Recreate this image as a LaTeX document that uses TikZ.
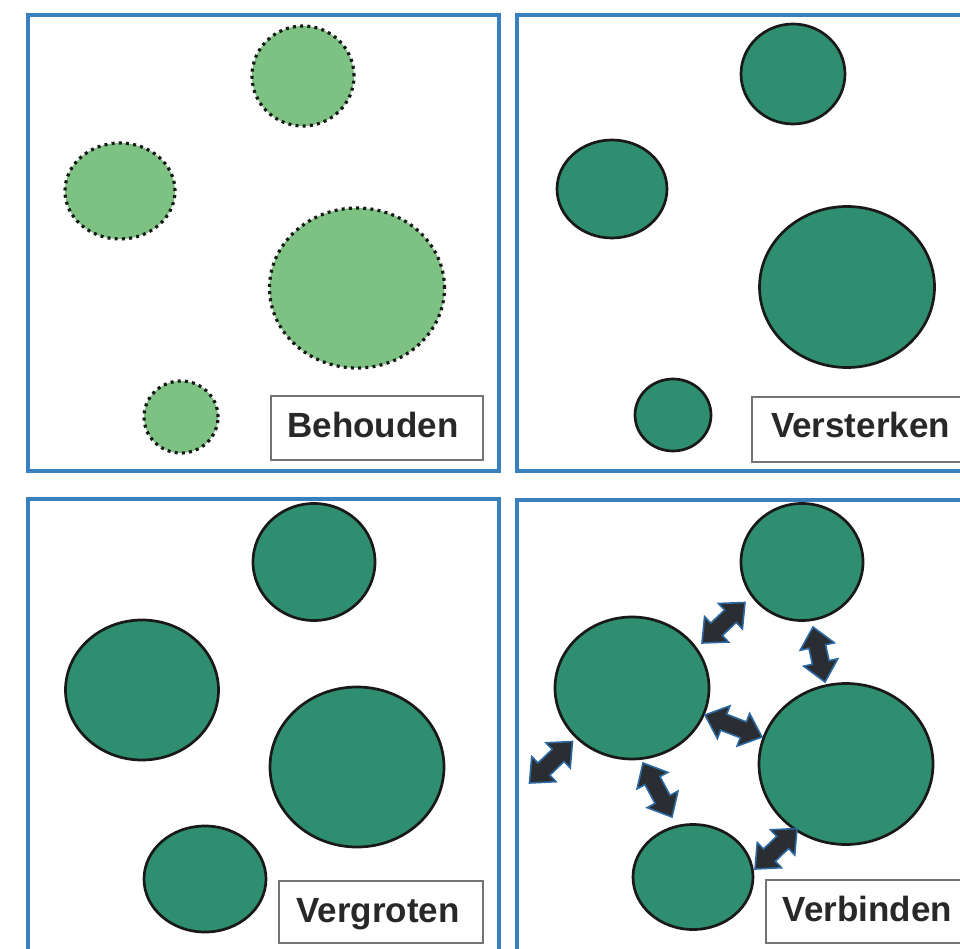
\documentclass[tikz,border=0pt]{standalone}
\usepackage{fontspec}
\setmainfont{Liberation Sans}
\usetikzlibrary{shapes.geometric,calc}
\definecolor{frameblue}{RGB}{58,128,190}
\definecolor{lightgreen}{RGB}{125,194,131}
\definecolor{darkgreen}{RGB}{47,142,112}
\definecolor{arrowdark}{RGB}{42,45,50}
\definecolor{halo}{RGB}{45,105,160}
\definecolor{textdark}{RGB}{40,40,40}
\newcommand\dblarr[2]{%
  \path let \p1=($(#2)-(#1)$), \n1={atan2(\y1,\x1)}, \n2={veclen(\x1,\y1)} in
    \pgfextra{\xdef\arrang{\n1}\xdef\arrlen{\n2}};
  \begin{scope}[shift={(#1)},rotate=\arrang]
    \draw[dblarrow] (0,0) -- (20,17.5) -- (20,8.5) -- ({\arrlen-20},8.5) -- ({\arrlen-20},17.5)
      -- (\arrlen,0) -- ({\arrlen-20},-17.5) -- ({\arrlen-20},-8.5) -- (20,-8.5) -- (20,-17.5) -- cycle;
  \end{scope}}
\begin{document}
\begin{tikzpicture}[x=1pt,y=-1pt,
  panel/.style={draw=frameblue,line width=4pt},
  blob/.style={ellipse,inner sep=0pt,draw=black!90,line width=2.7pt,fill=darkgreen},
  dotblob/.style={ellipse,inner sep=0pt,fill=lightgreen,draw=black!90,line width=3.2pt,
    dash pattern=on 3pt off 4.2pt},
  labelbox/.style={draw=black!55,line width=1.2pt,fill=white},
  labeltext/.style={font=\fontsize{35}{40}\selectfont\bfseries,text=textdark,inner sep=0pt,anchor=base},
  dblarrow/.style={fill=arrowdark,draw=halo,line width=1.6pt,line join=miter},
]
\useasboundingbox (0,0) rectangle (960,949);
\clip (0,0) rectangle (960,949);
\fill[white] (0,0) rectangle (960,949);

% panel frames
\draw[panel] (28,15) rectangle (498.5,471);
\draw[panel] (516.5,15) rectangle (990,471);
\draw[panel] (28,499) rectangle (498.5,990);
\draw[panel] (516.5,500) rectangle (990,990);

% panel 1: Behouden
\node[dotblob,minimum width=102pt,minimum height=100pt] (b1) at (303,76) {};
\node[dotblob,minimum width=110pt,minimum height=96pt] (b2) at (120,191) {};
\node[dotblob,minimum width=175pt,minimum height=160pt] (b3) at (357,288) {};
\node[dotblob,minimum width=74pt,minimum height=72pt] (b4) at (181,417) {};
\draw[labelbox] (271,396) rectangle (483,460);
\node[labeltext] (t1) at (373,437) {Behouden};

% panel 2: Versterken
\node[blob,minimum width=104pt,minimum height=100pt] (v1) at (793,74) {};
\node[blob,minimum width=110pt,minimum height=98pt] (v2) at (612,189) {};
\node[blob,minimum width=175pt,minimum height=161pt] (v3) at (847,287) {};
\node[blob,minimum width=76pt,minimum height=72pt] (v4) at (673,415) {};
\draw[labelbox] (752,397) rectangle (990,462);
\node[labeltext] (t2) at (860.5,437) {Versterken};

% panel 3: Vergroten
\node[blob,minimum width=122pt,minimum height=117pt] (g1) at (314,562) {};
\node[blob,minimum width=153pt,minimum height=140pt] (g2) at (142,690) {};
\node[blob,minimum width=174pt,minimum height=160pt] (g3) at (357,767) {};
\node[blob,minimum width=122pt,minimum height=106pt] (g4) at (205,879) {};
\draw[labelbox] (279,881) rectangle (483,943);
\node[labeltext] (t3) at (378,922) {Vergroten};

% panel 4: Verbinden
\node[blob,minimum width=122pt,minimum height=117pt] (c1) at (802,562) {};
\node[blob,minimum width=154pt,minimum height=142pt] (c2) at (632,688) {};
\node[blob,minimum width=174pt,minimum height=161pt] (c3) at (846,764) {};
\node[blob,minimum width=120pt,minimum height=105pt] (c4) at (693,877) {};
\draw[labelbox] (766,880) rectangle (990,943);
\node[labeltext] (t4) at (867.5,921) {Verbinden};

% arrow end points
\coordinate (a1s) at (702,643);  \coordinate (a1e) at (745,602.5);
\coordinate (a2s) at (813,627);  \coordinate (a2e) at (825,682);
\coordinate (a3s) at (705,715);  \coordinate (a3e) at (762,737);
\coordinate (a4s) at (529.5,783); \coordinate (a4e) at (572.5,741.5);
\coordinate (a5s) at (643,763);  \coordinate (a5e) at (672,817);
\coordinate (a6s) at (755,869);  \coordinate (a6e) at (797,828.5);
\dblarr{a1s}{a1e}
\dblarr{a2s}{a2e}
\dblarr{a3s}{a3e}
\dblarr{a4s}{a4e}
\dblarr{a5s}{a5e}
\dblarr{a6s}{a6e}
\end{tikzpicture}
\end{document}
